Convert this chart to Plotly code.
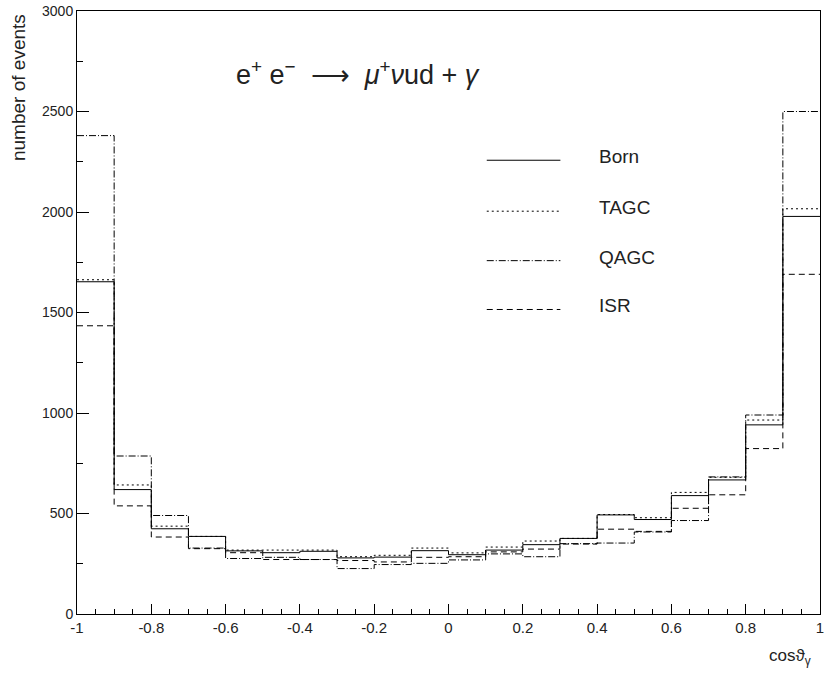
import numpy as np
import plotly.graph_objects as go

# 20 bins of cos(theta_gamma) from -1 to 1
bin_edges = [round(-1 + 0.1 * i, 1) for i in range(21)]

born = [1653, 619, 424, 386, 314, 305, 312, 279, 283, 315,
        295, 318, 345, 376, 493, 470, 589, 667, 941, 1978]
tagc = [1663, 642, 437, 386, 318, 318, 318, 285, 292, 328,
        304, 333, 363, 376, 495, 479, 605, 680, 965, 2016]
qagc = [2380, 786, 490, 328, 276, 282, 271, 226, 246, 252,
        269, 299, 285, 350, 353, 408, 465, 682, 990, 2500]
isr = [1434, 538, 383, 325, 305, 271, 271, 266, 259, 282,
       285, 309, 323, 348, 422, 411, 526, 593, 823, 1690]

series_names = ["Born", "TAGC", "QAGC", "ISR"]
series_values = [born, tagc, qagc, isr]
series_dash = ["solid", "2px,3px", "7px,2px,1px,2px", "6px,4px"]

x_tick_vals = [-1, -0.8, -0.6, -0.4, -0.2, 0, 0.2, 0.4, 0.6, 0.8, 1]
x_tick_text = ["-1", "-0.8", "-0.6", "-0.4", "-0.2", "0", "0.2", "0.4", "0.6", "0.8", "1"]
y_tick_vals = [0, 500, 1000, 1500, 2000, 2500, 3000]

FONT = "Liberation Sans, Arial, sans-serif"
TXT = "#222"

fig = go.Figure()
for name, vals, dash in zip(series_names, series_values, series_dash):
    fig.add_trace(go.Scatter(
        x=bin_edges, y=list(vals) + [vals[-1]],
        mode="lines", line=dict(shape="hv", color="black", width=1, dash=dash),
        name=name, showlegend=False, hoverinfo="skip"))

# manual legend (HBOOK style)
leg_y = [0.7525, 0.668, 0.586, 0.505]
shapes = []
annotations = []
for name, dash, yy in zip(series_names, series_dash, leg_y):
    shapes.append(dict(type="line", xref="paper", yref="paper",
                       x0=0.5515, x1=0.6506, y0=yy, y1=yy,
                       line=dict(color="black", width=1, dash=dash)))
    annotations.append(dict(xref="paper", yref="paper", x=0.700, y=yy + 0.006,
                            text=name, showarrow=False, xanchor="left",
                            yanchor="middle",
                            font=dict(family=FONT, size=19, color=TXT)))

annotations.append(dict(
    xref="paper", yref="paper", x=0.378, y=0.898,
    text="e<sup>+</sup> e<sup>\u2212</sup>  \u27f6  <i>\u03bc</i><sup>+</sup><i>\u03bd</i>ud + <i>\u03b3</i>",
    showarrow=False, xanchor="center", yanchor="middle",
    font=dict(family=FONT, size=27, color=TXT)))
annotations.append(dict(
    xref="paper", yref="paper", x=-0.079, y=0.998,
    text="number of events", textangle=-90, showarrow=False,
    xanchor="center", yanchor="top",
    font=dict(family=FONT, size=19, color=TXT)))
annotations.append(dict(
    xref="paper", yref="paper", x=0.99, y=-0.071,
    text="cos\u03d1<sub>\u03b3</sub>", showarrow=False,
    xanchor="right", yanchor="middle",
    font=dict(family=FONT, size=17, color=TXT)))

fig.update_layout(
    width=827, height=673,
    margin=dict(l=77, r=3, t=8, b=59),
    paper_bgcolor="white", plot_bgcolor="white",
    shapes=shapes, annotations=annotations,
    showlegend=False,
    font=dict(family=FONT, size=14, color=TXT),
)
fig.update_xaxes(
    range=[-1, 1], showgrid=False, zeroline=False,
    showline=True, linecolor="black", linewidth=1, mirror=True,
    ticks="inside", ticklen=10, tickcolor="black",
    tickvals=x_tick_vals, ticktext=x_tick_text,
    minor=dict(ticks="inside", ticklen=5, dtick=0.05, tick0=-1, tickcolor="black"),
    tickfont=dict(family=FONT, size=15, color=TXT),
    ticklabeloverflow="allow",
)
fig.update_yaxes(
    range=[0, 3000], showgrid=False, zeroline=False,
    showline=True, linecolor="black", linewidth=1, mirror=True,
    ticks="inside", ticklen=12, tickcolor="black",
    tickvals=y_tick_vals,
    minor=dict(ticks="inside", ticklen=6, dtick=250, tick0=0, tickcolor="black"),
    tickfont=dict(family=FONT, size=14, color=TXT),
    ticklabeloverflow="allow",
)

fig.write_html("out.html",
               config={"displayModeBar": False},
               post_script="document.body.style.margin='0px';document.body.style.padding='0px';")
